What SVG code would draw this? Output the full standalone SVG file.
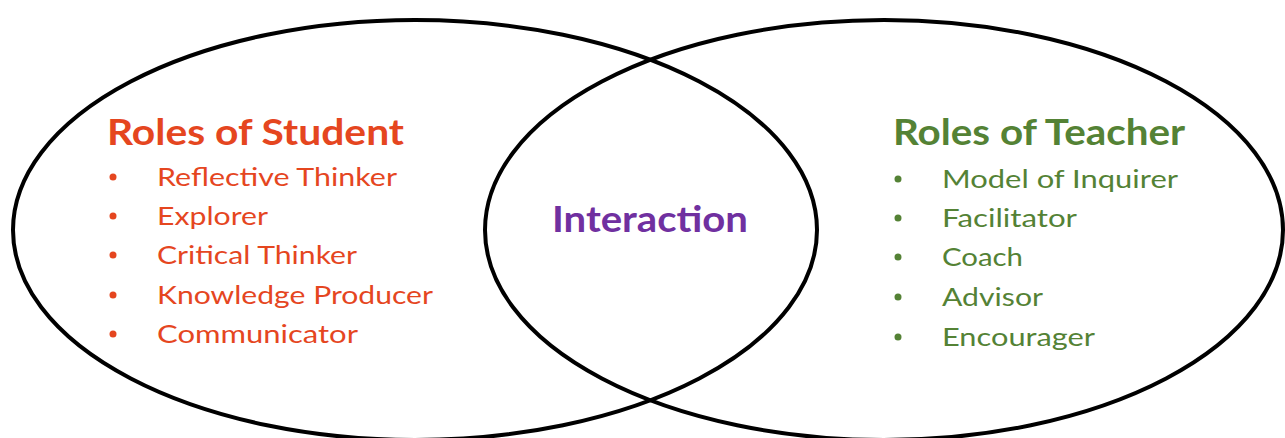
<svg xmlns="http://www.w3.org/2000/svg" width="1285" height="438" viewBox="0 0 1285 438">
<style>
.ring{fill:none;stroke:#000;stroke-width:4}
.t{font-family:Lato,"Open Sans","Liberation Sans",sans-serif}
.h{font-weight:bold;font-size:37px}
.i{font-size:25px}
.st{fill:#E5461F}
.te{fill:#548235}
.pu{fill:#7030A0}
</style>
<rect width="1285" height="438" fill="#fff"/>
<g id="connectors"></g>
<g id="student">
<ellipse class="ring" cx="415" cy="230" rx="402" ry="210"/>
<text class="t h st" x="107" y="145" textLength="297" lengthAdjust="spacingAndGlyphs">Roles of Student</text>
<g class="st">
<circle cx="113" cy="177" r="3.5"/>
<circle cx="113" cy="216" r="3.5"/>
<circle cx="113" cy="255" r="3.5"/>
<circle cx="113" cy="295" r="3.5"/>
<circle cx="113" cy="334" r="3.5"/>
</g>
<text class="t i st" x="157" y="186" textLength="240" lengthAdjust="spacingAndGlyphs">Reflective Thinker</text>
<text class="t i st" x="157" y="225" textLength="111" lengthAdjust="spacingAndGlyphs">Explorer</text>
<text class="t i st" x="157" y="264" textLength="200" lengthAdjust="spacingAndGlyphs">Critical Thinker</text>
<text class="t i st" x="157" y="304" textLength="276" lengthAdjust="spacingAndGlyphs">Knowledge Producer</text>
<text class="t i st" x="157" y="343" textLength="201" lengthAdjust="spacingAndGlyphs">Communicator</text>
</g>
<g id="teacher">
<ellipse class="ring" cx="884" cy="230" rx="399" ry="210"/>
<text class="t h te" x="893" y="145" textLength="292" lengthAdjust="spacingAndGlyphs">Roles of Teacher</text>
<g class="te">
<circle cx="898" cy="179" r="3.5"/>
<circle cx="898" cy="218" r="3.5"/>
<circle cx="898" cy="257" r="3.5"/>
<circle cx="898" cy="297" r="3.5"/>
<circle cx="898" cy="337" r="3.5"/>
</g>
<text class="t i te" x="942" y="188" textLength="236" lengthAdjust="spacingAndGlyphs">Model of Inquirer</text>
<text class="t i te" x="942" y="227" textLength="135" lengthAdjust="spacingAndGlyphs">Facilitator</text>
<text class="t i te" x="942" y="266" textLength="81" lengthAdjust="spacingAndGlyphs">Coach</text>
<text class="t i te" x="942" y="306" textLength="101" lengthAdjust="spacingAndGlyphs">Advisor</text>
<text class="t i te" x="942" y="346" textLength="153" lengthAdjust="spacingAndGlyphs">Encourager</text>
</g>
<g id="interaction">
<text class="t h pu" x="552" y="232" textLength="196" lengthAdjust="spacingAndGlyphs">Interaction</text>
</g>
</svg>
